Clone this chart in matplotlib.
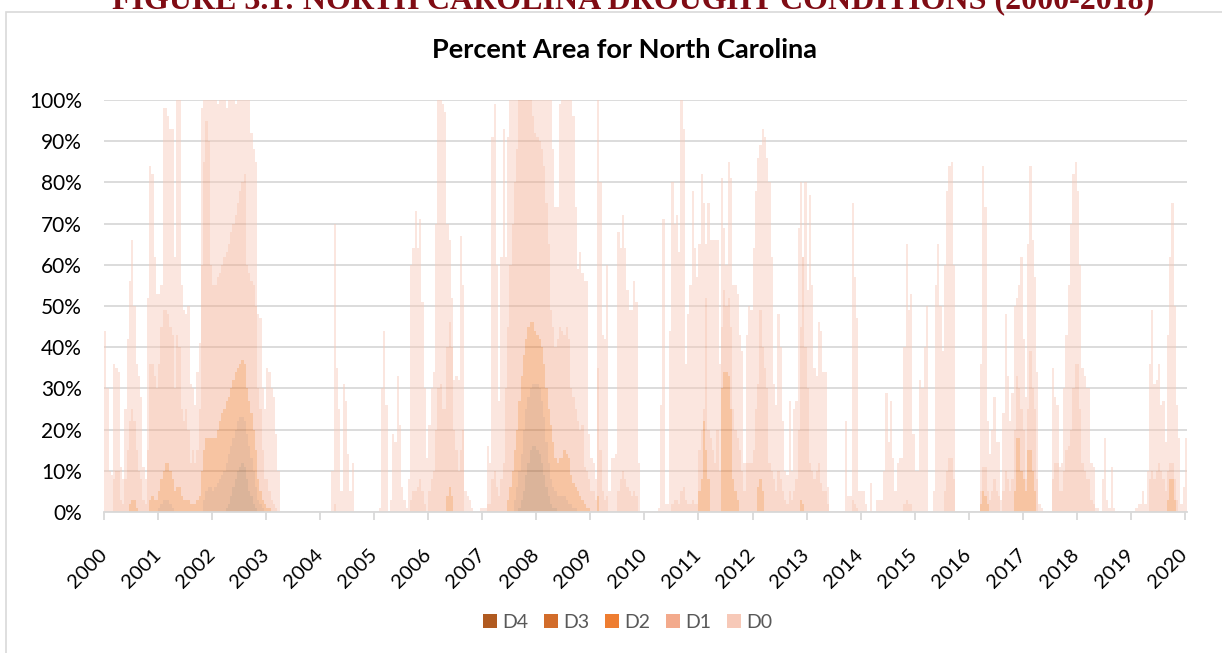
#!/usr/bin/env python3
"""Percent area of North Carolina in drought, 2000-2020 (semi-monthly readings)."""

import numpy as np
import matplotlib

matplotlib.use("Agg")
import matplotlib.pyplot as plt
from matplotlib.patches import Patch, Rectangle


# cumulative percent area, 24 readings per year (D0-D4, D1-D4, ...)
D0_UP = {
    2000: [44, 30, 10, 9, 36, 35, 34, 11, 8, 25, 42, 56, 66, 50, 36, 33, 28, 11, 8, 52, 84, 82, 62, 53],
    2001: [53, 55, 98, 98, 96, 93, 93, 62, 100, 100, 55, 49, 48, 50, 31, 30, 26, 34, 41, 98, 100, 100, 100, 100],
    2002: [100, 100, 99, 100, 100, 100, 98, 100, 100, 100, 99, 100, 100, 100, 100, 100, 100, 92, 88, 85, 48, 47, 30, 25],
    2003: [35, 34, 30, 28, 19, 10, 0, 0, 0, 0, 0, 0, 0, 0, 0, 0, 0, 0, 0, 0, 0, 0, 0, 0],
    2004: [0, 0, 0, 0, 0, 10, 70, 35, 25, 5, 31, 27, 14, 5, 12, 0, 0, 0, 0, 0, 0, 0, 0, 0],
    2005: [0, 0, 1, 30, 44, 26, 0, 3, 19, 17, 33, 21, 6, 3, 1, 8, 60, 64, 73, 64, 71, 51, 30, 13],
    2006: [21, 30, 34, 70, 100, 100, 99, 97, 70, 66, 52, 32, 33, 32, 67, 55, 5, 4, 3, 1, 0, 0, 0, 1],
    2007: [1, 1, 16, 12, 91, 99, 60, 27, 62, 93, 62, 91, 100, 100, 100, 100, 100, 100, 100, 100, 100, 100, 100, 100],
    2008: [100, 100, 100, 100, 100, 100, 100, 88, 74, 74, 99, 100, 100, 100, 100, 100, 96, 74, 59, 63, 58, 56, 56, 19],
    2009: [13, 12, 8, 100, 80, 43, 42, 60, 5, 13, 13, 14, 68, 64, 72, 64, 54, 49, 49, 56, 51, 12, 0, 0],
    2010: [0, 0, 0, 0, 0, 0, 1, 26, 71, 2, 2, 44, 80, 70, 72, 63, 100, 93, 36, 48, 55, 78, 64, 57],
    2011: [65, 82, 75, 65, 75, 66, 66, 66, 66, 36, 81, 69, 60, 85, 81, 55, 55, 53, 43, 39, 12, 43, 50, 49],
    2012: [64, 78, 86, 89, 93, 91, 86, 80, 62, 31, 26, 48, 40, 22, 10, 9, 27, 10, 25, 27, 69, 80, 62, 80],
    2013: [54, 77, 55, 35, 33, 46, 44, 34, 34, 6, 0, 0, 0, 0, 0, 0, 0, 22, 4, 4, 75, 57, 47, 5],
    2014: [5, 5, 2, 0, 7, 0, 0, 3, 3, 3, 10, 29, 17, 27, 13, 5, 12, 13, 13, 40, 65, 49, 53, 19],
    2015: [10, 10, 32, 30, 40, 50, 0, 0, 5, 55, 65, 50, 39, 60, 78, 84, 85, 60, 0, 0, 0, 0, 0, 0],
    2016: [0, 0, 0, 0, 0, 36, 84, 74, 22, 14, 20, 28, 17, 17, 3, 24, 48, 33, 22, 29, 50, 52, 55, 62],
    2017: [42, 28, 65, 84, 66, 57, 34, 2, 1, 0, 0, 0, 0, 35, 28, 26, 11, 12, 30, 43, 55, 70, 82, 85],
    2018: [78, 60, 35, 33, 30, 30, 12, 11, 1, 1, 0, 8, 18, 3, 1, 11, 1, 0, 0, 0, 0, 0, 0, 0],
    2019: [0, 0, 1, 2, 2, 5, 2, 10, 36, 49, 31, 32, 36, 26, 27, 17, 43, 62, 75, 50, 26, 18, 2, 6],
}
D1_UP = {
    2000: [0, 0, 0, 0, 8, 10, 10, 3, 2, 8, 15, 22, 25, 22, 15, 10, 8, 3, 2, 15, 36, 36, 33, 30],
    2001: [36, 45, 49, 49, 48, 45, 43, 30, 43, 40, 25, 22, 25, 20, 12, 15, 12, 15, 25, 60, 85, 95, 90, 60],
    2002: [55, 55, 57, 58, 60, 62, 63, 65, 68, 70, 72, 75, 78, 80, 82, 60, 58, 56, 55, 50, 30, 25, 15, 8],
    2003: [8, 5, 3, 2, 1, 0, 0, 0, 0, 0, 0, 0, 0, 0, 0, 0, 0, 0, 0, 0, 0, 0, 0, 0],
    2004: [0, 0, 0, 0, 0, 0, 2, 0, 0, 0, 0, 0, 0, 0, 0, 0, 0, 0, 0, 0, 0, 0, 0, 0],
    2005: [0, 0, 0, 0, 0, 0, 0, 0, 0, 0, 0, 0, 0, 0, 0, 0, 3, 5, 5, 6, 8, 5, 2, 0],
    2006: [5, 8, 10, 20, 30, 31, 25, 25, 40, 46, 40, 20, 15, 10, 15, 20, 0, 0, 0, 0, 0, 0, 0, 0],
    2007: [0, 0, 2, 2, 8, 10, 6, 4, 8, 12, 30, 45, 60, 70, 80, 88, 100, 100, 100, 100, 100, 100, 96, 92],
    2008: [91, 90, 88, 84, 75, 65, 49, 45, 40, 42, 45, 44, 43, 45, 42, 30, 28, 25, 22, 20, 21, 11, 10, 8],
    2009: [5, 5, 3, 35, 15, 5, 3, 4, 0, 0, 0, 0, 5, 8, 10, 8, 6, 5, 4, 5, 4, 0, 0, 0],
    2010: [0, 0, 0, 0, 0, 0, 0, 0, 0, 0, 0, 0, 2, 3, 3, 2, 5, 6, 3, 2, 2, 3, 2, 2],
    2011: [15, 20, 25, 52, 20, 18, 15, 12, 20, 10, 45, 54, 50, 52, 45, 25, 20, 18, 15, 10, 5, 12, 12, 12],
    2012: [15, 25, 31, 49, 40, 35, 30, 12, 10, 8, 5, 10, 8, 5, 3, 2, 5, 3, 5, 8, 20, 45, 62, 40],
    2013: [30, 12, 10, 8, 10, 12, 7, 5, 5, 2, 0, 0, 0, 0, 0, 0, 0, 0, 0, 0, 3, 2, 1, 0],
    2014: [0, 0, 0, 0, 0, 0, 0, 0, 0, 0, 0, 0, 0, 0, 0, 0, 0, 0, 0, 2, 3, 2, 2, 0],
    2015: [0, 0, 0, 0, 0, 0, 0, 0, 0, 0, 0, 0, 0, 5, 10, 13, 13, 8, 0, 0, 0, 0, 0, 0],
    2016: [0, 0, 0, 0, 0, 5, 11, 11, 5, 3, 5, 8, 5, 4, 0, 5, 10, 8, 5, 8, 20, 33, 30, 25],
    2017: [20, 8, 25, 39, 30, 25, 8, 0, 0, 0, 0, 0, 0, 8, 12, 12, 5, 5, 10, 15, 16, 20, 30, 36],
    2018: [36, 25, 12, 10, 8, 8, 3, 2, 0, 0, 0, 0, 0, 0, 0, 0, 0, 0, 0, 0, 0, 0, 0, 0],
    2019: [0, 0, 0, 0, 0, 0, 0, 0, 8, 10, 8, 10, 12, 10, 8, 5, 10, 12, 12, 8, 3, 0, 0, 0],
}
# only years with D2 or worse are listed, every other year reads zero
D2_UP = {
    2000: [0, 0, 0, 0, 0, 0, 0, 0, 0, 0, 0, 2, 3, 3, 1, 0, 0, 0, 0, 0, 3, 4, 3, 3],
    2001: [5, 8, 10, 12, 12, 10, 8, 5, 6, 6, 4, 3, 3, 3, 2, 2, 2, 3, 4, 10, 15, 18, 18, 18],
    2002: [18, 18, 20, 22, 24, 25, 27, 28, 30, 32, 34, 35, 36, 37, 36, 30, 27, 24, 20, 15, 8, 5, 3, 2],
    2003: [1, 1, 0, 0, 0, 0, 0, 0, 0, 0, 0, 0, 0, 0, 0, 0, 0, 0, 0, 0, 0, 0, 0, 0],
    2006: [0, 0, 0, 0, 0, 0, 0, 0, 4, 6, 4, 0, 0, 0, 0, 0, 0, 0, 0, 0, 0, 0, 0, 0],
    2007: [0, 0, 0, 0, 0, 0, 0, 0, 0, 0, 0, 3, 6, 10, 15, 20, 27, 33, 38, 42, 45, 46, 46, 44],
    2008: [43, 42, 40, 36, 30, 25, 21, 17, 13, 12, 13, 13, 15, 14, 13, 9, 7, 6, 5, 4, 3, 2, 1, 1],
    2009: [0, 0, 0, 4, 0, 0, 0, 0, 0, 0, 0, 0, 0, 0, 0, 0, 0, 0, 0, 0, 0, 0, 0, 0],
    2011: [5, 8, 22, 15, 8, 0, 0, 0, 0, 0, 30, 34, 34, 33, 25, 8, 5, 3, 0, 0, 0, 0, 0, 0],
    2012: [0, 0, 6, 8, 5, 0, 0, 0, 0, 0, 0, 0, 0, 0, 0, 0, 0, 0, 0, 0, 0, 3, 2, 0],
    2016: [0, 0, 0, 0, 0, 2, 5, 4, 2, 0, 0, 0, 0, 0, 0, 0, 0, 0, 0, 0, 5, 18, 18, 10],
    2017: [8, 5, 15, 15, 10, 5, 0, 0, 0, 0, 0, 0, 0, 0, 0, 0, 0, 0, 0, 0, 0, 0, 0, 0],
    2019: [0, 0, 0, 0, 0, 0, 0, 0, 0, 0, 0, 0, 0, 0, 0, 0, 3, 8, 8, 3, 0, 0, 0, 0],
}
D3_UP = {
    2001: [1, 2, 3, 3, 3, 2, 1, 0, 0, 0, 0, 0, 0, 0, 0, 0, 0, 0, 0, 0, 3, 5, 6, 6],
    2002: [5, 6, 7, 8, 9, 10, 12, 14, 16, 18, 20, 22, 23, 23, 22, 19, 16, 13, 10, 6, 3, 2, 1, 0],
    2007: [0, 0, 0, 0, 0, 0, 0, 0, 0, 0, 0, 0, 0, 0, 3, 6, 10, 14, 20, 25, 28, 30, 31, 31],
    2008: [31, 30, 27, 23, 17, 12, 8, 6, 5, 4, 4, 4, 4, 3, 2, 2, 1, 1, 0, 0, 0, 0, 0, 0],
}
D4_UP = {
    2002: [0, 0, 0, 0, 0, 0, 1, 2, 4, 6, 8, 10, 11, 12, 11, 8, 5, 4, 2, 1, 0, 0, 0, 0],
    2007: [0, 0, 0, 0, 0, 0, 0, 0, 0, 0, 0, 0, 0, 0, 0, 0, 1, 3, 5, 9, 12, 15, 16, 16],
    2008: [15, 14, 12, 9, 6, 4, 2, 1, 1, 0, 0, 0, 0, 0, 0, 0, 0, 0, 0, 0, 0, 0, 0, 0],
}
# first reading of January 2020
LAST_READING = {"D0": 18, "D1": 0, "D2": 0, "D3": 0, "D4": 0}

YEARS = list(range(2000, 2020))
LEVELS = ["D4", "D3", "D2", "D1", "D0"]
COLORS = {"D4": "#B05A20", "D3": "#D26C2A", "D2": "#EE7D31", "D1": "#F3AA8C", "D0": "#F7C9B8"}


def series(table, key):
    vals = []
    for yr in YEARS:
        vals.extend(table.get(yr, [0] * 24))
    vals.append(LAST_READING[key])
    return np.array(vals, dtype=float)


def main():
    cum = {
        "D0": series(D0_UP, "D0"),
        "D1": series(D1_UP, "D1"),
        "D2": series(D2_UP, "D2"),
        "D3": series(D3_UP, "D3"),
        "D4": series(D4_UP, "D4"),
    }
    # keep the cumulative readings nested
    for upper, lower in [("D0", "D1"), ("D1", "D2"), ("D2", "D3"), ("D3", "D4")]:
        cum[lower] = np.minimum(cum[lower], cum[upper])

    n = len(cum["D0"])
    x = 2000 + np.arange(n) / 24.0

    fig = plt.figure(figsize=(12.22, 6.53), dpi=100, facecolor="white")
    ax = fig.add_axes([104 / 1222, 1 - 512 / 653, (1187 - 104) / 1222, 412 / 653])

    # chart frame
    fig.patches.append(Rectangle((6 / 1222, -0.05), 1.2, 1 - 12 / 653 + 0.05, transform=fig.transFigure,
                                 fill=False, edgecolor="#d9d9d9", linewidth=1.2))

    fig.text(633 / 1222, 1 - 8 / 653, "FIGURE 3.1: NORTH CAROLINA DROUGHT CONDITIONS (2000-2018)",
             ha="center", va="baseline", fontsize=23, fontweight="bold",
             family="Liberation Serif", color="#7f0c14")
    fig.text(625 / 1222, 1 - 50 / 653, "Percent Area for North Carolina", ha="center", va="center",
             fontsize=19.5, fontweight="bold", family="Lato", color="black")

    bottom = np.zeros(n)
    prev = np.zeros(n)
    for lvl in LEVELS:
        part = cum[lvl] - prev
        ax.bar(x, part, width=1 / 24, bottom=bottom, align="edge", color=COLORS[lvl],
               alpha=0.45, linewidth=0)
        bottom = bottom + part
        prev = cum[lvl]

    ax.set_xlim(2000, 2020.04)
    ax.set_ylim(0, 100)
    ax.set_yticks(np.arange(0, 101, 10))
    ax.set_yticklabels([f"{v}%" for v in range(0, 101, 10)], family="Lato", fontsize=15)
    ax.set_xticks(range(2000, 2021))
    ax.set_xticklabels([str(y) for y in range(2000, 2021)], family="Lato", fontsize=14.5,
                       rotation=45, ha="right", va="center", rotation_mode="anchor")
    ax.tick_params(axis="y", length=0, pad=16)
    ax.tick_params(axis="x", length=6, width=1.3, color="#d9d9d9", pad=23)
    ax.grid(axis="y", color="#d9d9d9", linewidth=1.3)
    ax.set_axisbelow(True)
    for side in ["left", "right", "top"]:
        ax.spines[side].set_visible(False)
    ax.spines["bottom"].set_color("#d9d9d9")
    ax.spines["bottom"].set_linewidth(1.3)

    handles = [Patch(facecolor=COLORS[l], edgecolor="none", label=l) for l in LEVELS]
    fig.legend(handles=handles, loc="center", bbox_to_anchor=(628 / 1222, 1 - 622 / 653), ncol=5,
               frameon=False, prop={"family": "Lato", "size": 14}, labelcolor="#595959",
               handlelength=0.7, handleheight=0.7, handletextpad=0.3, columnspacing=0.8)

    fig.savefig("out.png", dpi=100, facecolor="white")
    plt.close(fig)


if __name__ == "__main__":
    main()
